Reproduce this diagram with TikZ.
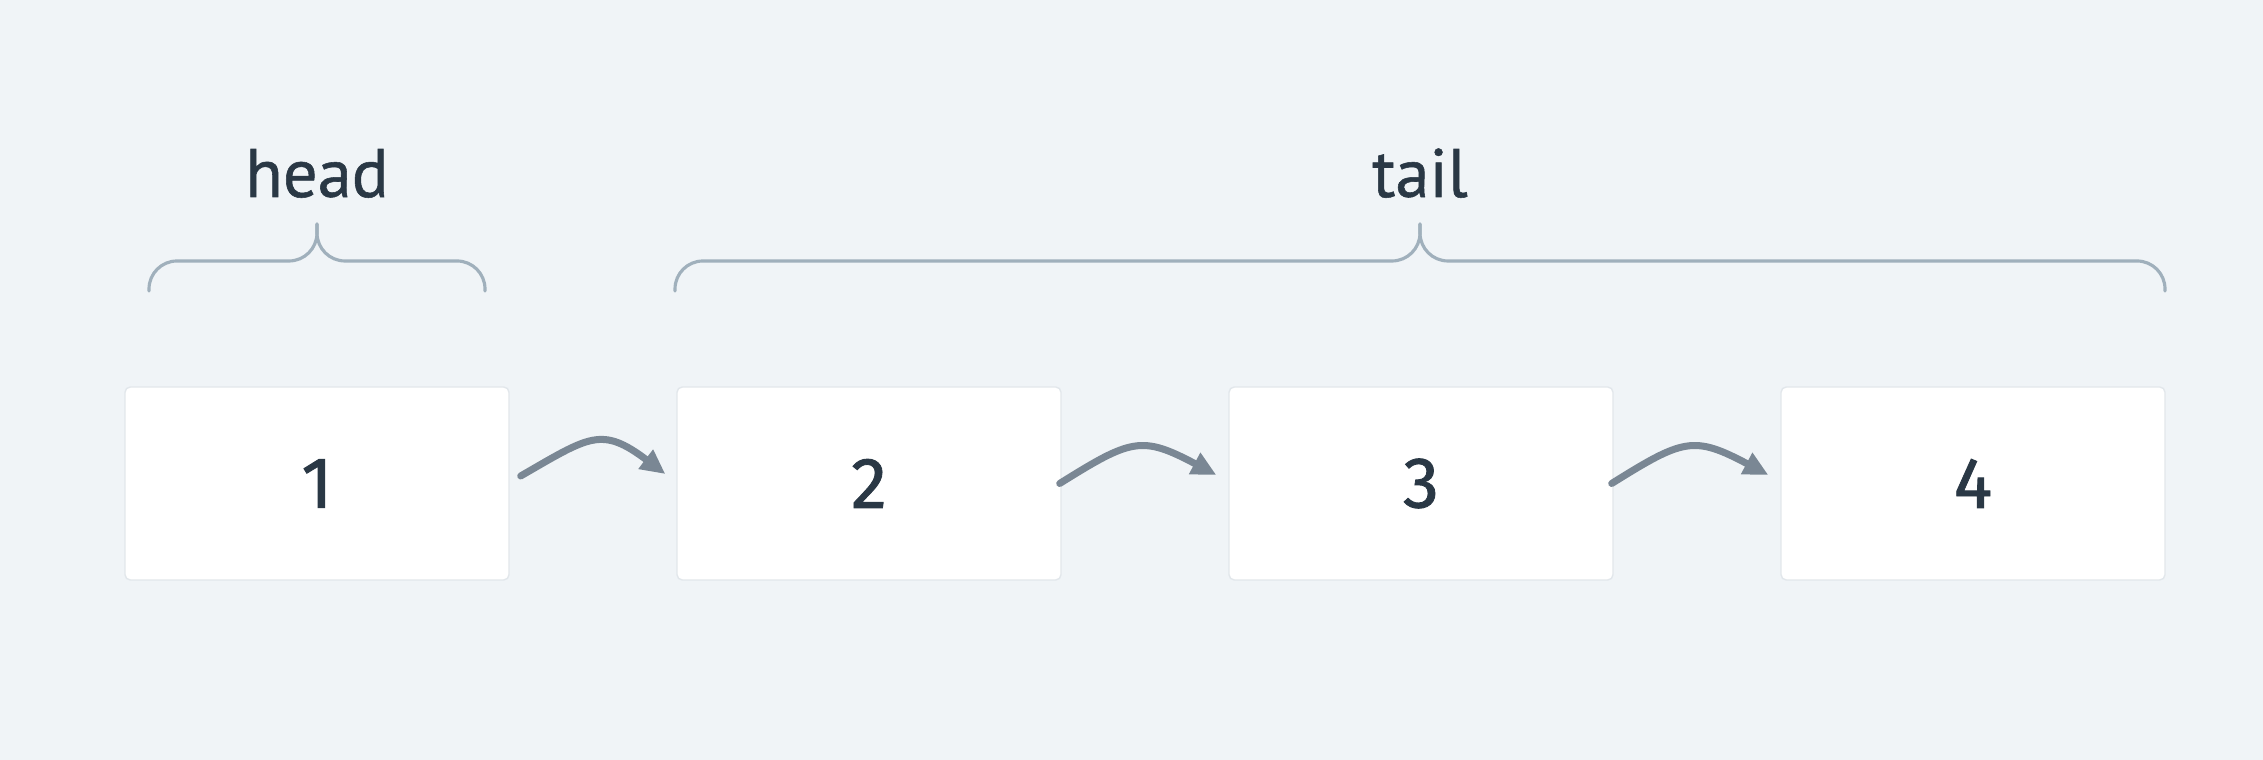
\documentclass[tikz,border=0pt]{standalone}
\usepackage{fontspec}
\setmainfont{PT Sans}[FakeBold=0.8]
\newfontfamily\numfont{Fira Sans}[FakeBold=1.2]
\usetikzlibrary{arrows.meta}
\definecolor{bgcol}{RGB}{240,244,247}
\definecolor{ink}{RGB}{42,56,69}
\definecolor{linkcol}{RGB}{122,135,148}
\definecolor{bracecol}{RGB}{160,176,188}
\definecolor{boxline}{RGB}{226,231,235}
\newcommand{\bigfont}{\fontsize{19.5pt}{23pt}\selectfont}
\newcommand{\numsize}{\fontsize{20.5pt}{24pt}\selectfont}

\tikzset{
	cellbox/.style={draw=boxline, line width=0.4pt, fill=white, rounded corners=1.5pt,
		minimum width=3.84cm, minimum height=1.93cm, inner sep=0pt, text=ink, font=\numfont\numsize},
	nextarrow/.style={draw=linkcol, line width=2pt, line cap=round,
		-{Triangle[length=7pt,width=6.5pt]}},
	curly/.style={draw=bracecol, line width=0.9pt, line cap=round, rounded corners=0.28cm},
	partname/.style={text=ink, font=\bigfont, anchor=base, inner sep=0pt}
}

\begin{document}
\begin{tikzpicture}
		\fill[bgcol] (0,0) rectangle (22.63,7.6);
		\foreach \i/\x in {1/3.17, 2/8.69, 3/14.21, 4/19.73} {
			\node[cellbox] (n\i) at (\x, 2.765) {\i};
		}
		
		\draw[nextarrow] ([shift={(0.11,0.075)}]n1.east) to[out=30, in=143, looseness=1.41] ([shift={(-0.11,0.095)}]n2.west);
		\draw[nextarrow] ([shift={(-0.02,0)}]n2.east) to[out=32, in=152, looseness=1.38] ([shift={(-0.12,0.085)}]n3.west);
		\draw[nextarrow] ([shift={(-0.02,0)}]n3.east) to[out=32, in=152, looseness=1.38] ([shift={(-0.12,0.085)}]n4.west);
		
		% braces over the list
		\foreach \a/\c/\b/\name in {1.49/3.17/4.85/head, 6.75/14.20/21.65/tail} {
			\draw[curly] (\a,4.69) -- (\a,4.99) -- (\c,4.99) -- (\c,5.36);
			\draw[curly] (\b,4.69) -- (\b,4.99) -- (\c,4.99) -- (\c,5.36);
			\node[partname] (\name) at (\c,5.63) {\name};
		}
	\end{tikzpicture}
\end{document}
